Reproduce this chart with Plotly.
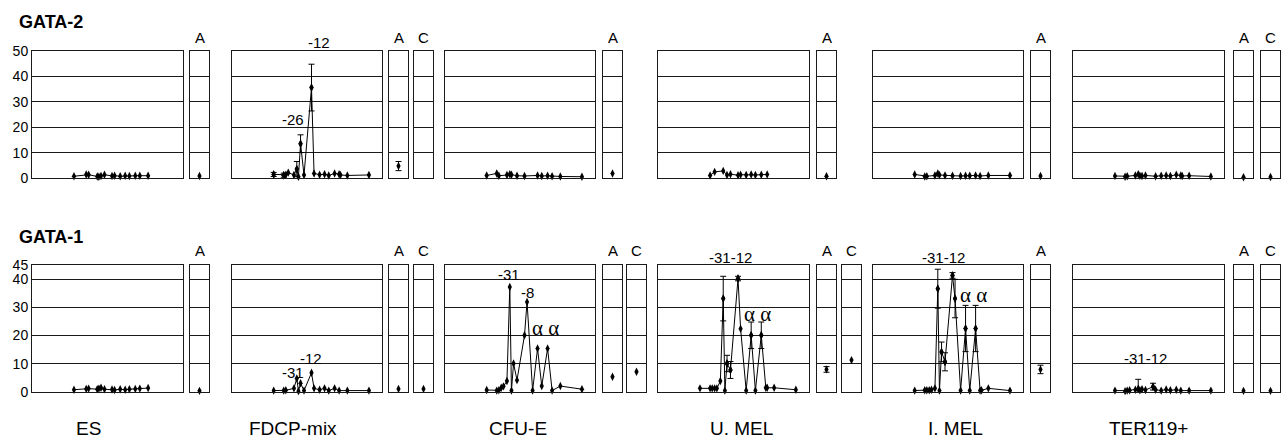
import plotly.graph_objects as go

W, H = 1281, 439
FONT = "Liberation Sans, Arial, Helvetica, sans-serif"
SERIF = "Liberation Serif, Times New Roman, serif"

# ---------------- data ----------------
# relative positions along the locus (percent of the main-panel width)
X_POS = [27.8, 34.5, 35.9, 37.5, 39.0, 41.3, 43.2, 44.3, 45.7, 48.0,
         53.0, 54.7, 58.4, 61.7, 64.5, 68.4, 71.4, 72.3, 76.9, 91.3]

CELL_LABELS = ["ES", "FDCP-mix", "CFU-E", "U. MEL", "I. MEL", "TER119+"]
GENE_LABELS = ["GATA-2", "GATA-1"]

# GATA-2 (top row)
G2_ES = [0.7, None, 1.4, 1.3, None, None, 0.6, 0.5, 0.8, 1.3,
         0.8, 0.9, 0.7, 0.9, 0.8, 0.9, 0.9, None, 0.9, None]
G2_FDCP = [1.4, 1.1, 1.3, 2.1, None, 1.2, 3.5, 0.5, 13.5, 1.2,
           35.6, 1.8, 1.3, 1.5, 1.0, 1.8, 1.5, 1.2, 1.0, 1.2]
G2_FDCP_ERR = [0.8, 0.8, None, None, None, None, 3.0, None, 3.5, None,
               9.2, None, None, None, None, None, None, None, None, None]
G2_CFUE = [1.0, 1.8, 0.9, None, None, 1.2, 1.5, 1.3, None, 0.9,
           0.8, None, None, 1.0, 0.8, 0.9, 0.7, None, 0.6, 0.5]
G2_UMEL = [None, 1.0, None, 2.4, None, None, 2.8, None, 1.2, 1.5,
           1.1, 1.3, 1.2, 1.4, 1.2, 1.3, None, 1.4, None, None]
G2_IMEL = [1.4, 0.6, 0.7, None, None, 1.0, 1.8, 1.2, None, 1.0,
           0.9, None, 0.8, 0.9, 0.9, 1.0, 0.8, None, 1.0, 1.0]
G2_TER = [0.8, 0.5, 0.7, None, None, 1.0, 1.5, 0.9, 0.8, 1.0,
          None, 0.7, 0.9, 1.0, 0.8, 1.3, 1.0, 0.8, 0.9, 0.6]
G2_A = [0.8, 4.7, 1.8, 0.7, 0.8, 0.3]
G2_A_ERR = [None, 1.8, None, None, None, None]
G2_C = [None, -0.3, None, None, None, 0.4]

# GATA-1 (bottom row)
G1_ES = [0.8, None, 1.1, 1.2, None, None, 1.0, 1.2, 1.5, 1.0,
         0.9, 0.7, 1.0, 0.8, 1.0, 1.1, 1.2, None, 1.4, None]
G1_FDCP = [0.5, 0.5, 0.6, None, None, 1.3, 4.8, 0.3, 3.1, 0.5,
           6.8, 1.3, 0.8, 1.3, 0.5, 1.3, 0.5, None, 0.5, 0.5]
G1_CFUE = [0.7, 0.5, 0.6, 1.5, 2.0, 3.9, 37.2, 0.5, 10.1, 4.2,
           20.1, 31.9, 0.5, 15.4, 2.1, 15.4, 0.5, None, 2.1, 1.0]
G1_UMEL = [1.3, 1.3, 1.3, 1.3, 1.3, 3.9, 33.1, 0.5, 10.1, 7.8,
           40.2, 22.4, 0.5, 20.1, 0.5, 20.1, 1.5, 1.5, 1.5, 0.8]
G1_UMEL_ERR = [None, None, None, None, None, None, 7.9, None, 2.9, 3.0,
               0.8, None, None, 4.7, None, 4.7, None, None, None, None]
G1_IMEL = [0.5, 0.6, 0.6, 0.6, 0.8, 1.3, 36.6, 0.5, 14.2, 10.7,
           41.3, 33.1, 0.5, 22.5, 0.5, 22.5, 0.5, 0.6, 1.3, 0.5]
G1_IMEL_ERR = [None, None, None, None, None, None, 6.9, None, 3.5, 3.2,
               1.0, 6.8, None, 8.2, None, 8.2, None, None, None, None]
G1_TER = [0.5, 0.3, 0.5, 0.6, None, 0.8, 1.1, 0.6, 1.0, 0.7,
          1.9, 0.8, 0.5, 0.9, 0.6, 0.8, 0.5, None, 0.5, 0.5]
G1_TER_ERR = [None, None, None, None, None, None, 3.4, None, None, None,
              1.2, None, None, None, None, None, None, None, None, None]
G1_A = [0.4, 1.1, 5.4, 8.0, 8.0, 0.4]
G1_A_ERR = [None, None, None, 1.0, 1.5, None]
G1_C = [None, 1.1, 7.2, 11.3, None, 0.4]

# site labels: (row, column, text, x position, y value)
SITE_LABELS = [
    (0, 1, "-12", 58.0, 53.5),
    (0, 1, "-26", 40.7, 23.2),
    (1, 1, "-31", 40.7, 7.0),
    (1, 1, "-12", 52.7, 12.0),
    (1, 2, "-31", 42.7, 41.7),
    (1, 2, "-8", 54.7, 35.4),
    (1, 2, "\u03b1 \u03b1", 66.7, 22.7),
    (1, 3, "-31-12", 48.3, 47.6),
    (1, 3, "\u03b1 \u03b1", 66.2, 27.5),
    (1, 4, "-31-12", 47.3, 47.6),
    (1, 4, "\u03b1 \u03b1", 66.7, 34.5),
    (1, 5, "-31-12", 48.3, 11.9),
]

ROW_MAIN = [
    [G2_ES, G2_FDCP, G2_CFUE, G2_UMEL, G2_IMEL, G2_TER],
    [G1_ES, G1_FDCP, G1_CFUE, G1_UMEL, G1_IMEL, G1_TER],
]
ROW_ERR = [
    [None, G2_FDCP_ERR, None, None, None, None],
    [None, None, None, G1_UMEL_ERR, G1_IMEL_ERR, G1_TER_ERR],
]
ROW_A = [G2_A, G1_A]
ROW_A_ERR = [G2_A_ERR, G1_A_ERR]
ROW_C = [G2_C, G1_C]
ROW_TICKS = [[0, 10, 20, 30, 40, 50], [0, 10, 20, 30, 40, 45]]
ROW_YMAX = [50, 45]

# ---------------- geometry (pixels) ----------------
COL_MAIN = [(32, 183), (232, 382), (445, 595), (658, 809), (873, 1023), (1073, 1224)]
COL_A = [190, 389, 603, 817, 1031, 1234]
COL_C = [215, 414, 627, 842, 1056, 1261]
SMALL_W = 19
ROW_Y = [(51, 178), (265, 392)]
LETTER_Y = [37, 250]
GENE_Y = [22, 237]
CELL_X = [89, 293, 518, 741, 955, 1148]
CELL_Y = 428

LINE_C = "#1a1a1a"


def px_x(p):
    return p / W


def px_y(p):
    return 1 - p / H


def data_to_paper(row, col, xv, yv):
    x0, x1 = COL_MAIN[col]
    y0, y1 = ROW_Y[row]
    px = x0 + (x1 - x0) * xv / 100.0
    py = y1 - (y1 - y0) * yv / ROW_YMAX[row]
    return px_x(px), px_y(py)


fig = go.Figure()
layout_axes = {}
annotations = []
axis_n = [0]


def new_axes(x0, x1, row, xrange, ticklabels):
    axis_n[0] += 1
    n = axis_n[0]
    sfx = "" if n == 1 else str(n)
    y0, y1 = ROW_Y[row]
    layout_axes["xaxis" + sfx] = dict(
        domain=[px_x(x0), px_x(x1)], range=xrange, anchor="y" + sfx,
        showticklabels=False, showgrid=False, zeroline=False, ticks="",
        automargin=False,
        showline=True, mirror=True, linecolor=LINE_C, linewidth=1, fixedrange=True)
    layout_axes["yaxis" + sfx] = dict(
        domain=[px_y(y1), px_y(y0)], range=[0, ROW_YMAX[row]], anchor="x" + sfx,
        tickvals=ROW_TICKS[row], ticktext=[str(v) for v in ROW_TICKS[row]],
        showticklabels=ticklabels, showgrid=True, gridcolor=LINE_C, gridwidth=1,
        zeroline=False, ticks="", showline=True, mirror=True, linecolor=LINE_C,
        automargin=False,
        linewidth=1, tickfont=dict(family=FONT, size=14, color="black"),
        fixedrange=True)
    return "x" + sfx, "y" + sfx


MARK = dict(symbol="diamond-tall", size=6, color="black")


def err_dict(arr):
    return dict(type="data", array=arr, visible=True, width=3, thickness=1,
                color="black")


for row in range(2):
    for col in range(6):
        x0, x1 = COL_MAIN[col]
        xa, ya = new_axes(x0, x1, row, [0, 100], col == 0)
        vals = ROW_MAIN[row][col]
        fig.add_trace(go.Scatter(
            x=X_POS, y=vals, xaxis=xa, yaxis=ya, mode="lines+markers",
            connectgaps=True, line=dict(color="black", width=1), marker=MARK,
            cliponaxis=False, showlegend=False, hoverinfo="skip"))
        errs = ROW_ERR[row][col]
        if errs is not None:
            ex = [X_POS[i] for i, e in enumerate(errs) if e is not None]
            ey = [vals[i] for i, e in enumerate(errs) if e is not None]
            ee = [e for e in errs if e is not None]
            fig.add_trace(go.Scatter(
                x=ex, y=ey, xaxis=xa, yaxis=ya, mode="markers", marker=MARK,
                error_y=err_dict(ee), cliponaxis=False, showlegend=False,
                hoverinfo="skip"))
        for (r, c, txt, tx, ty) in SITE_LABELS:
            if r == row and c == col:
                ax_, ay_ = data_to_paper(row, col, tx, ty)
                is_alpha = "\u03b1" in txt
                annotations.append(dict(
                    x=ax_, y=ay_, xref="paper", yref="paper", text=txt,
                    showarrow=False,
                    font=dict(family=SERIF if is_alpha else FONT,
                              size=21 if is_alpha else 15, color="black"),
                    xanchor="center", yanchor="middle"))
        # small A / C panels
        for letter, left, vlist, elist in (
                ("A", COL_A[col], ROW_A[row], ROW_A_ERR[row]),
                ("C", COL_C[col], ROW_C[row], None)):
            v = vlist[col]
            if v is None:
                continue
            xa2, ya2 = new_axes(left, left + SMALL_W, row, [0, 2], False)
            e = elist[col] if elist is not None else None
            tr = dict(x=[1], y=[v], xaxis=xa2, yaxis=ya2, mode="markers",
                      marker=MARK, cliponaxis=False, showlegend=False,
                      hoverinfo="skip")
            if e is not None:
                tr["error_y"] = err_dict([e])
            fig.add_trace(go.Scatter(**tr))
            annotations.append(dict(
                x=px_x(left + SMALL_W / 2), y=px_y(LETTER_Y[row]), xref="paper",
                yref="paper", text=letter, showarrow=False,
                font=dict(family=FONT, size=15, color="black"),
                xanchor="center", yanchor="middle"))
    annotations.append(dict(
        x=px_x(17), y=px_y(GENE_Y[row]), xref="paper", yref="paper",
        text="<b>" + GENE_LABELS[row] + "</b>", showarrow=False,
        font=dict(family=FONT, size=18, color="black"),
        xanchor="left", yanchor="middle"))

for i, lab in enumerate(CELL_LABELS):
    annotations.append(dict(
        x=px_x(CELL_X[i]), y=px_y(CELL_Y), xref="paper", yref="paper",
        text=lab, showarrow=False, font=dict(family=FONT, size=19, color="black"),
        xanchor="center", yanchor="middle"))

fig.update_layout(
    width=W, height=H, margin=dict(l=0, r=0, t=0, b=0, pad=0, autoexpand=False),
    paper_bgcolor="white", plot_bgcolor="white",
    annotations=annotations, showlegend=False, **layout_axes)

fig.write_html("out.html", config={"displayModeBar": False},
               post_script="document.body.style.margin='0';")
